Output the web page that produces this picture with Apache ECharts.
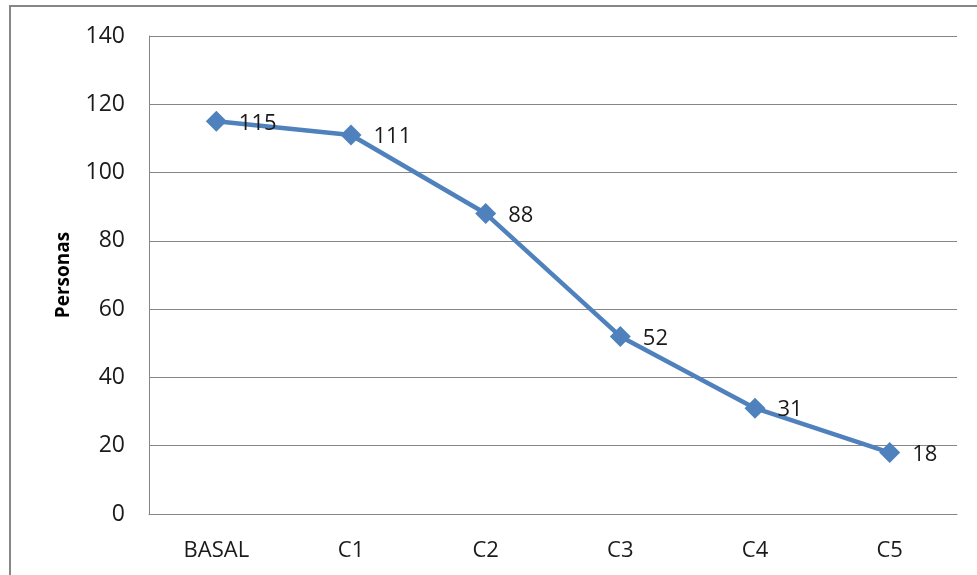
<!DOCTYPE html>
<html><head><meta charset="utf-8">
<script src="https://cdn.jsdelivr.net/npm/echarts@6/dist/echarts.min.js"></script>
<style>html,body{margin:0;padding:0;background:#fff}#c{width:977px;height:575px}</style>
</head><body><div id="c"></div>
<script>
var categories = ['BASAL', 'C1', 'C2', 'C3', 'C4', 'C5'];
var values = [115, 111, 88, 52, 31, 18];
var yTicks = {min: 0, max: 140, interval: 20};
var yName = 'Personas';

var chart = echarts.init(document.getElementById('c'));
chart.setOption({
  animation: false,
  backgroundColor: '#fff',
  graphic: [{
    type: 'rect', shape: {x: 10, y: 6, width: 980, height: 590},
    style: {fill: 'none', stroke: '#878787', lineWidth: 2}, silent: true, z: 100
  }],
  grid: {left: 149, right: 20, top: 36, bottom: 61},
  xAxis: {
    type: 'category', data: categories, boundaryGap: true,
    axisLine: {lineStyle: {color: '#868686', width: 1}},
    axisTick: {show: false},
    axisLabel: {color: '#1a1a1a', fontFamily: 'Open Sans', fontSize: 22, margin: 26}
  },
  yAxis: {
    type: 'value', min: yTicks.min, max: yTicks.max, interval: yTicks.interval,
    name: yName, nameLocation: 'middle', nameGap: 76, nameRotate: 90,
    nameTextStyle: {color: '#000', fontFamily: 'Open Sans', fontWeight: 'bold', fontSize: 19},
    axisLine: {show: true, lineStyle: {color: '#868686', width: 1}},
    axisTick: {show: false},
    splitLine: {lineStyle: {color: '#868686', width: 1}},
    axisLabel: {color: '#1a1a1a', fontFamily: 'Open Sans', fontSize: 23, margin: 24}
  },
  series: [{
    type: 'line', data: values, smooth: false,
    symbol: 'diamond', symbolSize: 21,
    lineStyle: {color: '#4F81BD', width: 4.5},
    itemStyle: {color: '#4F81BD'},
    label: {show: true, position: 'right', distance: 12, offset: [0, 2], color: '#1a1a1a', fontFamily: 'Open Sans', fontSize: 22}
  }]
});
</script></body></html>
